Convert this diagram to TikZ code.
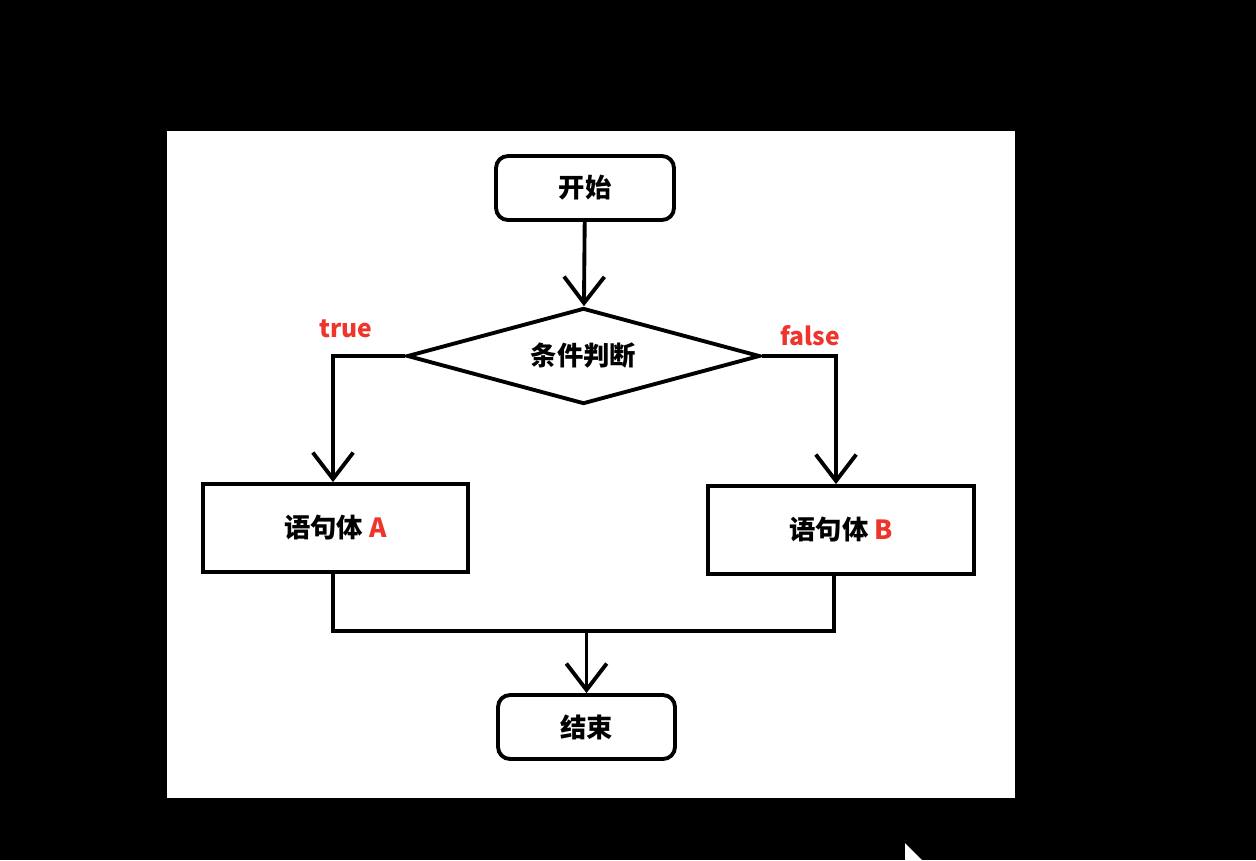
\documentclass[tikz,border=0pt]{standalone}
\usepackage{fontspec}
\usepackage{tikz}
\usetikzlibrary{positioning}
\usetikzlibrary{shapes.geometric}
\usetikzlibrary{arrows.meta}
\newfontfamily\cjk{Noto Sans CJK SC}
\definecolor{labelred}{RGB}{238,52,43}
\tikzset{flow_line/.style={
		line width=2.2pt,
		draw,
	}
}
\tikzset{flow_arrow/.style={
		flow_line,
		-{Straight Barb[length=15pt,width=23pt]},
	}
}
\tikzset{FC_term/.style={
		rectangle,
		rounded corners=0.24cm,
		line width=2.2pt,
		draw,
		fill=white,
		inner sep = 0pt,
		minimum width=3.56cm,
		minimum height=1.28cm,
		font=\cjk\bfseries\fontsize{15}{17}\selectfont,
	}
}
\tikzset{FC_box/.style={
		rectangle,
		line width=2.2pt,
		draw,
		fill=white,
		inner sep = 0pt,
		minimum width=5.3cm,
		minimum height=1.76cm,
		font=\cjk\bfseries\fontsize{15}{17}\selectfont,
	}
}
\tikzset{FC_cond/.style={
		diamond,
		aspect=3.68,
		line width=2.2pt,
		draw,
		fill=white,
		inner sep = 0pt,
		minimum width=7.06cm,
		minimum height=1.92cm,
		font=\cjk\bfseries\fontsize{15}{17}\selectfont,
	}
}
\tikzset{FC_label/.style={
		text=labelred,
		inner sep = 0pt,
		font=\cjk\bfseries\fontsize{14}{16}\selectfont,
	}
}

\begin{document}
\begin{tikzpicture}[x=0.02cm, y=-0.02cm]

% background
\fill[black] (0,0) rectangle (1256,860);
\fill[white] (167,131) rectangle (1015,798);
\fill[white] (905,843) -- (922,860) -- (905,860) -- cycle;

% nodes
\node[FC_term] (start) at (585,188) {开始};
\node[FC_cond] (cond) at (583.5,356) {条件判断};
\node[FC_box] (bodyA) at (335.5,528) {\raisebox{-0.1cm}{语句体 \textcolor{labelred}{A}}};
\node[FC_box, minimum width=5.32cm] (bodyB) at (841,530) {语句体 \textcolor{labelred}{B}};
\node[FC_term, minimum width=3.54cm] (stop) at (586.5,727) {结束};

\node[FC_label] (ltrue) at (346,329) {true};
\node[FC_label] (lfalse) at (810,336) {false};

\coordinate (merge) at (586.5,631);

% connectors
\draw[flow_arrow] (start) -- (cond);
\draw[flow_arrow] (cond.west) -| ([xshift=-0.05cm]bodyA.north);
\draw[flow_arrow] (cond.east) -| ([xshift=-0.1cm]bodyB.north);
\draw[flow_line] ([xshift=-0.05cm]bodyA.south) |- (merge) -| ([xshift=-0.14cm]bodyB.south);
\draw[flow_arrow] (merge) -- (stop);

\end{tikzpicture}
\end{document}
